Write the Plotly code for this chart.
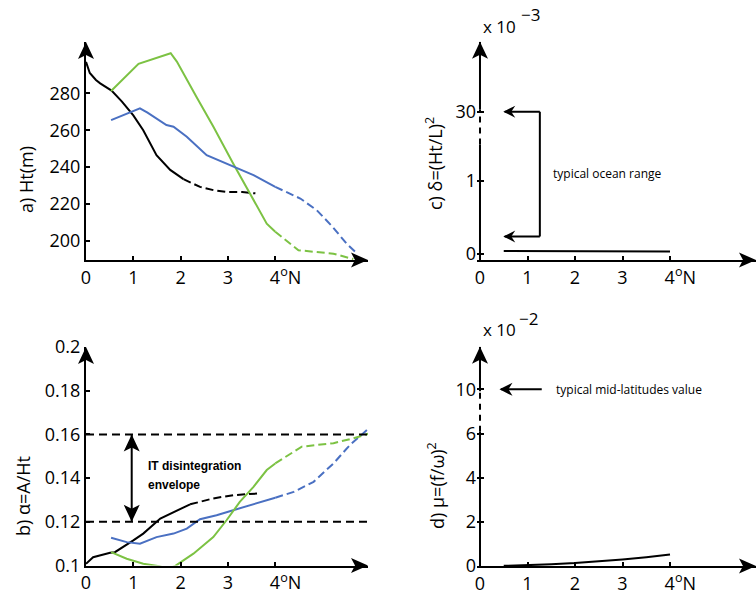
import plotly.graph_objects as go

W, H = 756, 597

# ---------------- data ----------------
a_black_x = [0, 0.08, 0.21, 0.3, 0.54, 0.76, 1.0, 1.21, 1.49, 1.78, 2.06]
a_black_y = [297, 291, 287.2, 285.4, 281.5, 275.5, 268, 260, 246.5, 238.5, 233.5]
a_black_dx = [2.06, 2.41, 2.7, 2.98, 3.3, 3.58]
a_black_dy = [233.5, 229.3, 227.5, 226.5, 226.5, 225.8]
a_green_x = [0.53, 1.11, 1.79, 1.92, 2.33, 2.69, 3.11, 3.54, 3.82, 4.0]
a_green_y = [281.3, 296.0, 301.7, 297.2, 278.3, 262, 242, 222, 209.4, 205]
a_green_dx = [4.0, 4.49, 5.23, 5.65]
a_green_dy = [205, 195, 193.1, 190.2]
a_blue_x = [0.53, 1.14, 1.3, 1.7, 1.85, 2.13, 2.55, 3.11, 3.54, 4.0]
a_blue_y = [265.5, 271.9, 269.5, 262.8, 261.9, 256.5, 246.5, 240.2, 235.7, 229.3]
a_blue_dx = [4.0, 4.53, 4.88, 5.2, 5.51, 5.74]
a_blue_dy = [229.3, 223, 216.6, 208, 198.5, 193.0]

b_black_x = [0, 0.15, 0.51, 0.61, 1.0, 1.21, 1.57, 1.85, 2.2]
b_black_y = [0.1008, 0.1038, 0.1058, 0.1061, 0.1115, 0.1146, 0.1215, 0.1245, 0.128]
b_black_dx = [2.2, 2.69, 3.11, 3.68]
b_black_dy = [0.128, 0.1307, 0.1322, 0.133]
b_blue_x = [0.53, 0.86, 1.14, 1.49, 1.85, 2.13, 2.41, 2.76, 3.11, 3.54, 4.0]
b_blue_y = [0.1127, 0.1107, 0.110, 0.113, 0.1146, 0.1169, 0.1212, 0.123, 0.1253, 0.128, 0.131]
b_blue_dx = [4.0, 4.39, 4.81, 5.23, 5.58, 5.98]
b_blue_dy = [0.131, 0.1337, 0.1383, 0.1467, 0.1552, 0.1628]
b_green_x = [0.53, 0.86, 1.21, 1.55, 1.72, 1.88, 2.27, 2.69, 2.97, 3.25, 3.54, 3.82, 4.0]
b_green_y = [0.1061, 0.1031, 0.1008, 0.0997, 0.0985, 0.0997, 0.1054, 0.113, 0.1207,
             0.1291, 0.136, 0.1437, 0.1467]
b_green_dx = [4.0, 4.32, 4.56, 5.23, 5.65, 6.0]
b_green_dy = [0.1467, 0.1513, 0.1544, 0.156, 0.1582, 0.1605]
b_envelope = [0.12, 0.16]

c_lat = [0.5, 1, 1.5, 2, 2.5, 3, 3.5, 4]
c_delta = [0.040, 0.039, 0.038, 0.037, 0.036, 0.035, 0.034, 0.033]
c_ocean_range = [0.24, 30]
c_ticks = [0, 1, 30]

d_lat = [0.5, 1, 1.5, 2, 2.5, 3, 3.5, 4]
d_mu = [0.008, 0.033, 0.074, 0.131, 0.205, 0.295, 0.401, 0.524]
d_midlat = 10
d_ticks = [0, 2, 4, 6, 10]

x_ticks = [0, 1, 2, 3, 4]
x_ticktext = ["0", "1", "2", "3", "\u2007\u20074<sup>o</sup>N"]
a_ticks = [200, 220, 240, 260, 280]
b_ticks = [0.1, 0.12, 0.14, 0.16, 0.18, 0.2]
b_ticktext = ["0.1", "0.12", "0.14", "0.16", "0.18", "0.2"]

GREEN = "#7cc243"
BLUE = "#4a70c2"
BLACK = "#000000"

C30_POS = 1.949
D10_POS = 8.03
C_RANGE = [-0.082, 2.908]
D_RANGE = [0, 9.97]
RX_RANGE = [-0.063, 5.81]

LEFT_X = (86, 368)
RIGHT_X = (477, 756)
A_Y = (260, 42)
B_Y = (565.5, 347)
C_Y = (260, 41.7)
D_Y = (566, 346.7)


def c_pos(v):
    return v if v <= 1 else 1 + (v - 1) * (C30_POS - 1) / 29.0


def d_pos(v):
    return v if v <= 6 else 6 + (v - 6) * (D10_POS - 6) / 4.0


def px(x):
    return x / W


def py(y):
    return 1 - y / H


fig = go.Figure()


def line(x, y, color, xa, ya, dash=None, width=2):
    fig.add_trace(go.Scatter(x=x, y=y, mode="lines", xaxis=xa, yaxis=ya,
                             line=dict(color=color, width=width, dash=dash or "solid"),
                             hoverinfo="skip", showlegend=False))


DASH = "8px,4px"
line(a_black_x, a_black_y, BLACK, "x", "y")
line(a_black_dx, a_black_dy, BLACK, "x", "y", DASH)
line(a_green_x, a_green_y, GREEN, "x", "y")
line(a_green_dx, a_green_dy, GREEN, "x", "y", DASH)
line(a_blue_x, a_blue_y, BLUE, "x", "y")
line(a_blue_dx, a_blue_dy, BLUE, "x", "y", DASH)
line(b_black_x, b_black_y, BLACK, "x2", "y2")
line(b_black_dx, b_black_dy, BLACK, "x2", "y2", DASH)
line(b_blue_x, b_blue_y, BLUE, "x2", "y2")
line(b_blue_dx, b_blue_dy, BLUE, "x2", "y2", DASH)
line(b_green_x, b_green_y, GREEN, "x2", "y2")
line(b_green_dx, b_green_dy, GREEN, "x2", "y2", DASH)
line(c_lat, [c_pos(v) for v in c_delta], BLACK, "x3", "y3")
line(d_lat, [d_pos(v) for v in d_mu], BLACK, "x4", "y4")

# broken y axes of c and d, drawn along x = 0
line([0, 0], [C_RANGE[0], 1.5], BLACK, "x3", "y3")
line([0, 0], [1.5, C30_POS + 0.03], BLACK, "x3", "y3", "6px,5px")
line([0, 0], [C30_POS + 0.03, C_RANGE[1]], BLACK, "x3", "y3")
line([0, 0], [D_RANGE[0], 6.1], BLACK, "x4", "y4")
line([0, 0], [6.1, 7.95], BLACK, "x4", "y4", "6px,5px")
line([0, 0], [7.95, D_RANGE[1]], BLACK, "x4", "y4")

shapes = []


def head(xref, yref, x, y, direction, L=17, Wd=16, notch=4):
    h = Wd / 2.0
    if direction == "up":
        p = f"M0,0 L{-h},{-L} L0,{-L + notch} L{h},{-L} Z"
    elif direction == "down":
        p = f"M0,0 L{-h},{L} L0,{L - notch} L{h},{L} Z"
    elif direction == "right":
        p = f"M0,0 L{-L},{h} L{-L + notch},0 L{-L},{-h} Z"
    else:
        p = f"M0,0 L{L},{h} L{L - notch},0 L{L},{-h} Z"
    shapes.append(dict(type="path", xref=xref, yref=yref, xsizemode="pixel",
                       ysizemode="pixel", xanchor=x, yanchor=y, path=p,
                       fillcolor=BLACK, line=dict(width=0), layer="above"))


def seg(xref, yref, x0, y0, x1, y1, dash="solid", width=2, color=BLACK):
    shapes.append(dict(type="line", xref=xref, yref=yref, x0=x0, y0=y0, x1=x1, y1=y1,
                       line=dict(color=color, width=width, dash=dash), layer="above"))


for xa, ya in [("x", "y"), ("x2", "y2")]:
    head(xa + " domain", ya + " domain", 1, 0, "right", L=17, Wd=15)
    head(xa + " domain", ya + " domain", 0, 1, "up", L=17, Wd=16)
zero_px = RIGHT_X[0] + (0 - RX_RANGE[0]) / (RX_RANGE[1] - RX_RANGE[0]) * (RIGHT_X[1] - RIGHT_X[0])
for xa, ya in [("x3", "y3"), ("x4", "y4")]:
    head(xa + " domain", ya + " domain", 1, 0, "right", L=17, Wd=15)
    head("paper", ya + " domain", px(zero_px), 1, "up", L=17, Wd=16)

for v in b_envelope:
    seg("x2", "y2", 0, v, 6.04, v, dash="8px,5px", width=2)
seg("x2", "y2", 0.966, b_envelope[0], 0.966, b_envelope[1])
head("x2", "y2", 0.966, b_envelope[1], "up", L=17, Wd=16)
head("x2", "y2", 0.966, b_envelope[0], "down", L=17, Wd=16)

lo, hi = c_pos(c_ocean_range[0]), c_pos(c_ocean_range[1])
seg("x3", "y3", 1.26, lo, 1.26, hi)
seg("x3", "y3", 0.52, lo, 1.26, lo)
seg("x3", "y3", 0.52, hi, 1.26, hi)
head("x3", "y3", 0.49, lo, "left", L=12, Wd=12)
head("x3", "y3", 0.49, hi, "left", L=12, Wd=12)

seg("x4", "y4", 0.44, d_pos(d_midlat), 1.30, d_pos(d_midlat))
head("x4", "y4", 0.41, d_pos(d_midlat), "left", L=13, Wd=13)

FONT = "Open Sans"
TF = dict(family=FONT, size=18, color=BLACK)

common = dict(showgrid=False, zeroline=False, ticks="inside", ticklen=4, tickwidth=1.5,
              tickcolor=BLACK, linecolor=BLACK, linewidth=2, tickfont=TF, fixedrange=True)
right_y = dict(common, ticklen=7, showline=False)

xa_left = [px(LEFT_X[0]), px(LEFT_X[1])]
xa_right = [px(RIGHT_X[0]), px(RIGHT_X[1])]

fig.update_layout(
    width=W, height=H, margin=dict(l=0, r=0, t=0, b=0, autoexpand=False),
    paper_bgcolor="white", plot_bgcolor="white", showlegend=False,
    xaxis=dict(domain=xa_left, range=[0, 5.96], anchor="y", showline=True,
               tickvals=x_ticks, ticktext=x_ticktext, **common),
    yaxis=dict(domain=[py(A_Y[0]), py(A_Y[1])], range=[189.7, 307.8], anchor="x",
               showline=True, tickvals=a_ticks, **common),
    xaxis2=dict(domain=xa_left, range=[0, 5.96], anchor="y2", showline=True,
                tickvals=x_ticks, ticktext=x_ticktext, **common),
    yaxis2=dict(domain=[py(B_Y[0]), py(B_Y[1])], range=[0.1, 0.2], anchor="x2",
                showline=True, tickvals=b_ticks, ticktext=b_ticktext, **common),
    xaxis3=dict(domain=xa_right, range=RX_RANGE, anchor="y3", showline=True,
                tickvals=x_ticks, ticktext=x_ticktext, **common),
    yaxis3=dict(domain=[py(C_Y[0]), py(C_Y[1])], range=C_RANGE, anchor="x3",
                tickvals=[c_pos(v) for v in c_ticks],
                ticktext=[str(v) for v in c_ticks], **right_y),
    xaxis4=dict(domain=xa_right, range=RX_RANGE, anchor="y4", showline=True,
                tickvals=x_ticks, ticktext=x_ticktext, **common),
    yaxis4=dict(domain=[py(D_Y[0]), py(D_Y[1])], range=D_RANGE, anchor="x4",
                tickvals=[d_pos(v) for v in d_ticks],
                ticktext=[str(v) for v in d_ticks], **right_y),
    shapes=shapes,
)

ann = []


def text(t, x, y, size=18, angle=0, xanchor="center", family=FONT, align="center"):
    ann.append(dict(text=t, x=px(x), y=py(y), xref="paper", yref="paper",
                    showarrow=False, textangle=angle, xanchor=xanchor, yanchor="middle",
                    align=align, font=dict(family=family, size=size, color=BLACK)))


text("a) Ht(m)", 26, 180, angle=-90)
text("b) \u03b1=A/Ht", 23, 496, angle=-90)
text("c) \u03b4=(Ht/L)<sup>2</sup>", 434, 164, angle=-90)
text("d) \u03bc=(f/\u03c9)<sup>2</sup>", 436, 486, angle=-90)
text("x 10", 481, 27, size=17, xanchor="left")
text("\u22123", 519, 15, size=17, xanchor="left")
text("x 10", 481, 330, size=17, xanchor="left")
text("\u22122", 517, 318, size=17, xanchor="left")
text("typical ocean range", 607.5, 174, size=12)
text("typical mid-latitudes value", 629, 389, size=12)
text("<b>IT disintegration</b>", 146, 466, size=12, xanchor="left",
     family="Liberation Sans")
text("<b>envelope</b>", 146, 485, size=12, xanchor="left", family="Liberation Sans")

fig.update_layout(annotations=ann)
fig.write_html("out.html", config={"displayModeBar": False},
               post_script="document.body.style.margin='0';")
